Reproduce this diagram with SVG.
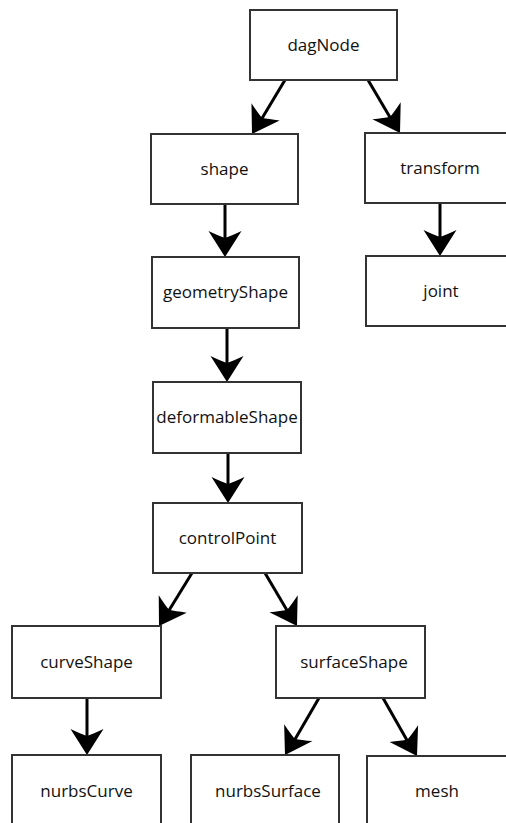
<svg xmlns="http://www.w3.org/2000/svg" xmlns:xlink="http://www.w3.org/1999/xlink" width="506" height="823" viewBox="0 0 506 823">
<style>
.box{fill:#fff;stroke:#333;stroke-width:2}
.lbl{font-family:"Open Sans","Liberation Sans",sans-serif;font-size:17px;fill:#111;text-anchor:middle}
.con{stroke:#000;stroke-width:3;fill:none}
.head{fill:#000;stroke:none}
</style>
<defs>
<path id="ah" class="head" d="M0,0 L-26,-16.5 Q-21,-6 -19,0 Q-21,6 -26,16.5 Z"/>
</defs>
<rect width="506" height="823" fill="#fff"/>
<g id="connectors">
<line class="con" x1="285" y1="80" x2="261" y2="120"/>
<use xlink:href="#ah" href="#ah" transform="translate(252,134) rotate(121.4)"/>
<line class="con" x1="368" y1="80" x2="391" y2="119"/>
<use xlink:href="#ah" href="#ah" transform="translate(400,133) rotate(58.9)"/>
<line class="con" x1="440" y1="203" x2="440" y2="240"/>
<use xlink:href="#ah" href="#ah" transform="translate(440,256) rotate(90)"/>
<line class="con" x1="225" y1="204" x2="225" y2="241"/>
<use xlink:href="#ah" href="#ah" transform="translate(225,257) rotate(90)"/>
<line class="con" x1="227" y1="328" x2="227" y2="366"/>
<use xlink:href="#ah" href="#ah" transform="translate(227,382) rotate(90)"/>
<line class="con" x1="228" y1="453" x2="228" y2="487"/>
<use xlink:href="#ah" href="#ah" transform="translate(228,503) rotate(90)"/>
<line class="con" x1="192" y1="573" x2="168" y2="612"/>
<use xlink:href="#ah" href="#ah" transform="translate(159,626) rotate(121.9)"/>
<line class="con" x1="265" y1="573" x2="288" y2="612"/>
<use xlink:href="#ah" href="#ah" transform="translate(297,626) rotate(58.9)"/>
<line class="con" x1="87" y1="698" x2="87" y2="739"/>
<use xlink:href="#ah" href="#ah" transform="translate(87,755) rotate(90)"/>
<line class="con" x1="319" y1="698" x2="294" y2="741"/>
<use xlink:href="#ah" href="#ah" transform="translate(285,755) rotate(120.8)"/>
<line class="con" x1="383" y1="698" x2="408" y2="742"/>
<use xlink:href="#ah" href="#ah" transform="translate(417,756) rotate(59.6)"/>
</g>
<g id="dagNode"><rect class="box" x="250" y="10" width="147" height="70"/><text class="lbl" x="323.5" y="51">dagNode</text></g>
<g id="shape"><rect class="box" x="151" y="134" width="147" height="70"/><text class="lbl" x="224.5" y="175">shape</text></g>
<g id="transform"><rect class="box" x="365" y="133" width="147" height="70"/><text class="lbl" x="440" y="174">transform</text></g>
<g id="joint"><rect class="box" x="366" y="256" width="147" height="70"/><text class="lbl" x="441" y="297">joint</text></g>
<g id="geometryShape"><rect class="box" x="152" y="257" width="147" height="71"/><text class="lbl" x="225.5" y="298">geometryShape</text></g>
<g id="deformableShape"><rect class="box" x="153" y="382" width="148" height="71"/><text class="lbl" x="227" y="423">deformableShape</text></g>
<g id="controlPoint"><rect class="box" x="153" y="503" width="149" height="70"/><text class="lbl" x="227.5" y="544">controlPoint</text></g>
<g id="curveShape"><rect class="box" x="12" y="626" width="149" height="72"/><text class="lbl" x="86.5" y="668">curveShape</text></g>
<g id="surfaceShape"><rect class="box" x="276" y="626" width="149" height="72"/><text class="lbl" x="354" y="668">surfaceShape</text></g>
<g id="nurbsCurve"><rect class="box" x="12" y="755" width="149" height="72"/><text class="lbl" x="86.5" y="797">nurbsCurve</text></g>
<g id="nurbsSurface"><rect class="box" x="191" y="755" width="148" height="72"/><text class="lbl" x="268" y="797">nurbsSurface</text></g>
<g id="mesh"><rect class="box" x="367" y="756" width="147" height="72"/><text class="lbl" x="437" y="797">mesh</text></g>
</svg>
